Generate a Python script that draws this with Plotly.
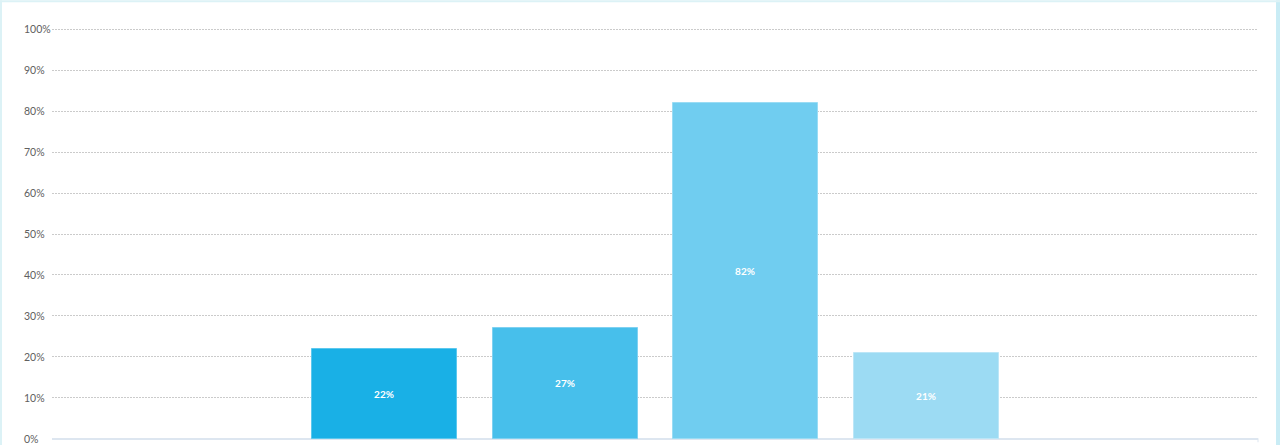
import plotly.graph_objects as go

# ---- data ----
categories = [0, 1, 2, 3]
values = [22, 27, 82, 21]
bar_colors = ["#19b0e6", "#47bfeb", "#70cdf0", "#9cdbf3"]
bar_edges = ["#5cc8ee", "#7fd1f1", "#9adcf4", "#bce6f7"]
tick_vals = [0, 10, 20, 30, 40, 50, 60, 70, 80, 90, 100]
tick_labels = ["0%", "10%", "20%", "30%", "40%", "50%", "60%", "70%", "80%", "90%", "100%"]

W, H = 1280, 445
L, R, T, B = 52, 22, 26.65, 4.25
plot_w = W - L - R
plot_h = H - T - B

fig = go.Figure()
fig.add_trace(go.Bar(
    x=categories,
    y=values,
    width=0.803,
    marker=dict(color=bar_colors, line=dict(color=bar_edges, width=1)),
    text=[f"{v}%" for v in values],
    textposition="inside",
    insidetextanchor="middle",
    textangle=0,
    textfont=dict(color="white", size=10, family="Lato", weight="bold"),
    hoverinfo="skip",
))

annotations = []
for v, lab in zip(tick_vals, tick_labels):
    annotations.append(dict(
        x=(22 - L) / plot_w, xref="paper", xanchor="left",
        y=v, yref="y", yanchor="middle",
        text=lab, showarrow=False,
        font=dict(family="Lato", size=10.5, color="#606060"),
    ))

py = lambda px: (H - B - px) / plot_h  # pixel row -> paper y
pxx = lambda px: (px - L) / plot_w      # pixel col -> paper x

shapes = [
    # outer light-cyan frame
    dict(type="rect", xref="paper", yref="paper",
         x0=pxx(0), x1=pxx(2), y0=py(H), y1=py(0),
         fillcolor="#dcf2f6", line=dict(width=0), layer="above"),
    dict(type="rect", xref="paper", yref="paper",
         x0=pxx(1276), x1=pxx(1280), y0=py(H), y1=py(0),
         fillcolor="#c9ecf5", line=dict(width=0), layer="above"),
    dict(type="rect", xref="paper", yref="paper",
         x0=pxx(0), x1=pxx(1280), y0=py(2), y1=py(0),
         fillcolor="#dcf2f6", line=dict(width=0), layer="above"),
    # small end tick at right of baseline
    dict(type="line", xref="paper", yref="paper", x0=1, x1=1,
         y0=py(438), y1=py(442), line=dict(color="#dde6f0", width=1)),
]

fig.update_layout(
    width=W, height=H,
    margin=dict(l=L, r=R, t=T, b=B, pad=0),
    paper_bgcolor="white",
    plot_bgcolor="white",
    showlegend=False,
    hovermode=False,
    bargap=0,
    xaxis=dict(
        range=[-1.841, 4.837],
        showgrid=False, zeroline=False, showticklabels=False,
        showline=False, fixedrange=True,
    ),
    yaxis=dict(
        range=[-0.5, 100.5],
        tickvals=tick_vals,
        showticklabels=False,
        showgrid=True, gridcolor="#cbcbcb", gridwidth=1, griddash="2px,1px",
        zeroline=True, zerolinecolor="#dde6f0", zerolinewidth=2,
        showline=False, fixedrange=True,
    ),
    annotations=annotations,
    shapes=shapes,
)

fig.write_html("out.html", config={"displayModeBar": False},
               post_script="document.body.style.margin='0';document.body.style.overflow='hidden';")
